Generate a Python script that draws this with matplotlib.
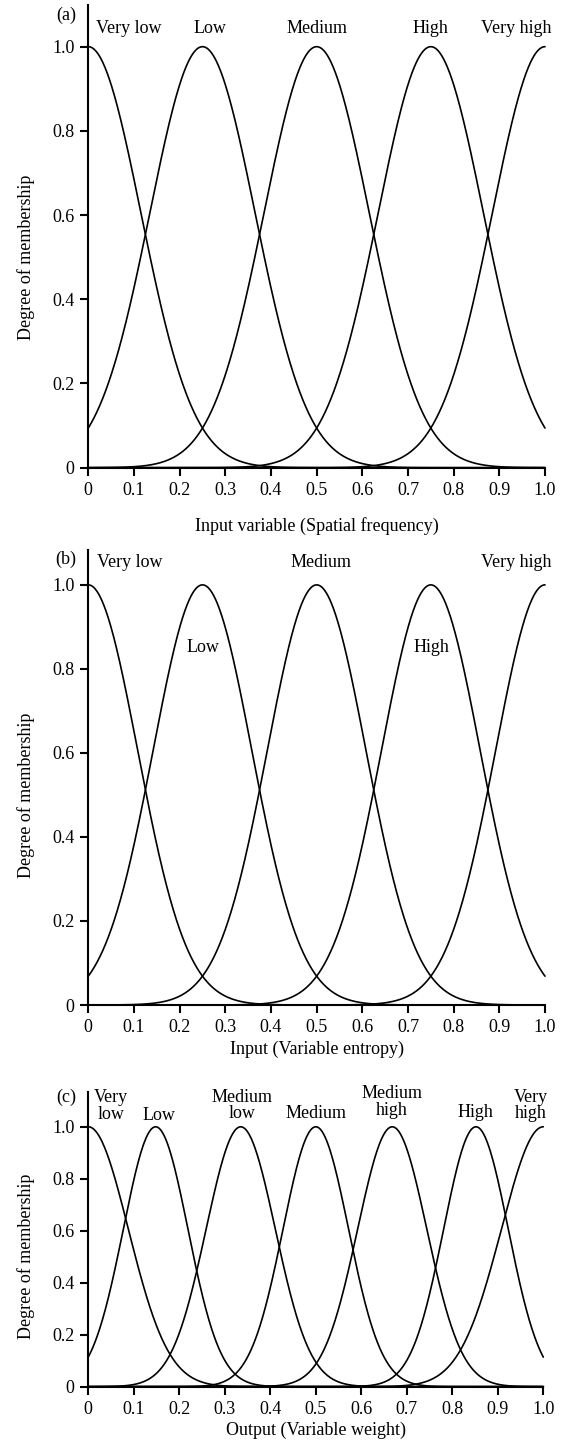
import numpy as np
import matplotlib
matplotlib.use("Agg")
import matplotlib.pyplot as plt

plt.rcParams['font.family'] = ['Liberation Serif', 'DejaVu Serif']
plt.rcParams['font.size'] = 13

# ---------------- data ----------------
x_ticks = [0, 0.1, 0.2, 0.3, 0.4, 0.5, 0.6, 0.7, 0.8, 0.9, 1.0]
x_tick_labels = ['0', '0.1', '0.2', '0.3', '0.4', '0.5', '0.6', '0.7', '0.8', '0.9', '1.0']
y_ticks = [0, 0.2, 0.4, 0.6, 0.8, 1.0]
y_tick_labels = ['0', '0.2', '0.4', '0.6', '0.8', '1.0']

a_names = ['Very low', 'Low', 'Medium', 'High', 'Very high']
a_centers = [0.0, 0.25, 0.5, 0.75, 1.0]
a_sigmas = [0.115, 0.115, 0.115, 0.115, 0.115]
a_xlabel = 'Input variable (Spatial frequency)'

b_names = ['Very low', 'Low', 'Medium', 'High', 'Very high']
b_centers = [0.0, 0.25, 0.5, 0.75, 1.0]
b_sigmas = [0.108, 0.108, 0.108, 0.108, 0.108]
b_xlabel = 'Input (Variable entropy)'

c_names = ['Very\nlow', 'Low', 'Medium\nlow', 'Medium', 'Medium\nhigh', 'High', 'Very\nhigh']
c_centers = [0.0, 0.148, 0.335, 0.5, 0.668, 0.852, 1.0]
c_sigmas = [0.088, 0.071, 0.076, 0.072, 0.076, 0.071, 0.092]
c_xlabel = 'Output (Variable weight)'

ylabel = 'Degree of membership'
panel_tags = ['(a)', '(b)', '(c)']

# ---------------- layout (pixels) ----------------
W, H = 565, 1450
fig = plt.figure(figsize=(W / 100, H / 100), dpi=100)

panels = [
    dict(names=a_names, centers=a_centers, sigmas=a_sigmas, xlabel=a_xlabel,
         left=88.3, right=545, y0=467.7, ytop=5, ymax=1.099,
         label_pos=[(0.089, 1.042), (0.266, 1.042), (0.50, 1.042), (0.75, 1.042), (0.937, 1.042)],
         tag_pos=(-0.049, 1.075), xlab_off=58),
    dict(names=b_names, centers=b_centers, sigmas=b_sigmas, xlabel=b_xlabel,
         left=88.3, right=545, y0=1005, ytop=550, ymax=1.083,
         label_pos=[(0.09, 1.053), (0.251, 0.852), (0.51, 1.053), (0.752, 0.852), (0.938, 1.053)],
         tag_pos=(-0.049, 1.06), xlab_off=44),
    dict(names=c_names, centers=c_centers, sigmas=c_sigmas, xlabel=c_xlabel,
         left=88.3, right=543.3, y0=1386.7, ytop=1091.7, ymax=1.135,
         label_pos=[(0.049, 1.08), (0.155, 1.045), (0.338, 1.083), (0.50, 1.05),
                    (0.668, 1.096), (0.85, 1.054), (0.973, 1.083)],
         tag_pos=(-0.049, 1.115), xlab_off=44),
]

xs = np.linspace(0, 1, 801)

for p, tag in zip(panels, panel_tags):
    ax = fig.add_axes([p['left'] / W, 1 - p['y0'] / H,
                       (p['right'] - p['left']) / W, (p['y0'] - p['ytop']) / H])
    for c, s in zip(p['centers'], p['sigmas']):
        ax.plot(xs, np.exp(-(xs - c) ** 2 / (2 * s ** 2)), color='black', lw=1.2,
                solid_capstyle='round', clip_on=False)
    ax.set_xlim(0, 1)
    ax.set_ylim(0, p['ymax'])
    for side in ['top', 'right']:
        ax.spines[side].set_visible(False)
    for side in ['left', 'bottom']:
        ax.spines[side].set_linewidth(1.5)
    ax.set_xticks(x_ticks)
    ax.set_xticklabels(x_tick_labels)
    ax.set_yticks(y_ticks)
    ax.set_yticklabels(y_tick_labels)
    ax.tick_params(direction='out', length=5.5, width=1.5, pad=4.5, labelsize=13)

    for name, (lx, ly) in zip(p['names'], p['label_pos']):
        ax.text(lx, ly, name, ha='center', va='center', fontsize=13, linespacing=0.95,
                clip_on=False)
    ax.text(p['tag_pos'][0], p['tag_pos'][1], tag, ha='center', va='center', fontsize=13)

    wpx = p['right'] - p['left']
    hpx = p['y0'] - p['ytop']
    ax.set_ylabel(ylabel, fontsize=13, va='center')
    ax.yaxis.set_label_coords((26 - p['left']) / wpx, 0.5 / p['ymax'])
    ax.set_xlabel(p['xlabel'], fontsize=13, va='center')
    ax.xaxis.set_label_coords(0.5, -p['xlab_off'] / hpx)

fig.savefig('out.png', dpi=100)
